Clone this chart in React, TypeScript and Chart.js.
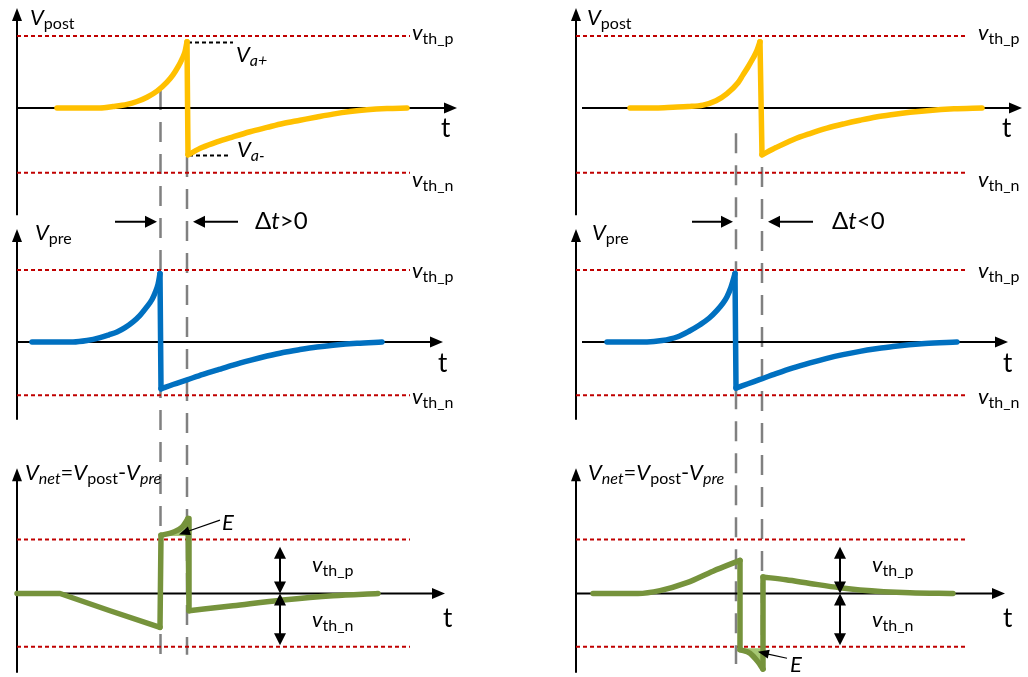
import { useEffect, useRef } from "react";
import { Chart, registerables } from "chart.js";

Chart.register(...registerables);

const FONT = "Lato, 'Open Sans', sans-serif";

// ---------------- DATA ----------------
// Thresholds per row: [V_post, V_pre, V_net]
const vthPos = [1.0, 1.0, 0.75];
const vthNeg = [-0.9, -0.74, -0.74];

// Left column (Δt > 0)
const postL_riseT = [4.0, 6.5, 8.3, 9.6, 11.0, 12.0, 13.0, 14.0, 15.0, 15.6, 16.1, 16.5, 16.8, 17.0];
const postL_riseV = [0, 0, 0, 0.02, 0.05, 0.09, 0.15, 0.235, 0.36, 0.46, 0.57, 0.68, 0.78, 0.92];
const postL_fallT = [17.1, 18.5, 20.0, 21.6, 23.3, 25.0, 26.6, 28.3, 30.0, 31.6, 33.3, 35.0, 37.0, 39.0];
const postL_fallV = [-0.65, -0.55, -0.47, -0.4, -0.33, -0.27, -0.215, -0.17, -0.125, -0.085, -0.05, -0.024, -0.007, 0];

const preL_riseT = [1.5, 5.6, 7.0, 8.3, 9.2, 10.0, 10.8, 11.6, 12.3, 13.0, 13.5, 13.8, 14.1, 14.3];
const preL_riseV = [0, 0, 0.02, 0.06, 0.1, 0.14, 0.2, 0.28, 0.37, 0.49, 0.59, 0.68, 0.8, 0.95];
const preL_fallT = [14.4, 15.6, 17.0, 18.6, 20.2, 21.6, 23.3, 25.0, 26.6, 28.3, 30.0, 31.6, 34.0, 36.5];
const preL_fallV = [-0.65, -0.59, -0.525, -0.45, -0.38, -0.32, -0.255, -0.195, -0.145, -0.105, -0.07, -0.045, -0.017, 0];

const netL_aT = [0, 4.3, 9.3, 14.3];
const netL_aV = [0, 0, -0.24, -0.47];
const netL_bT = [14.4, 15.6, 16.5, 17.1];
const netL_bV = [0.81, 0.85, 0.92, 1.04];
const netL_cT = [17.2, 21.6, 26.6, 31.6, 36.1];
const netL_cV = [-0.24, -0.17, -0.09, -0.03, 0];

// Right column (Δt < 0)
const postR_riseT = [5.4, 8.0, 9.7, 11.2, 12.7, 14.0, 15.1, 16.2, 16.7, 17.2, 17.7, 18.1, 18.4];
const postR_riseV = [0, 0, 0.01, 0.02, 0.04, 0.1, 0.2, 0.35, 0.46, 0.57, 0.69, 0.8, 0.92];
const postR_fallT = [18.6, 20.0, 21.7, 23.4, 25.1, 26.8, 28.4, 30.0, 31.7, 33.4, 35.1, 37.8, 40.6];
const postR_fallV = [-0.65, -0.55, -0.44, -0.355, -0.28, -0.22, -0.17, -0.125, -0.09, -0.06, -0.037, -0.012, 0];

const preR_riseT = [3.1, 7.1, 8.6, 10.1, 11.3, 12.4, 13.3, 14.1, 14.7, 15.1, 15.5, 15.9];
const preR_riseV = [0, 0, 0.02, 0.07, 0.15, 0.24, 0.33, 0.44, 0.54, 0.63, 0.76, 0.95];
const preR_fallT = [16.0, 17.2, 18.4, 20.0, 21.7, 23.4, 25.0, 26.7, 28.4, 30.0, 31.7, 34.9, 38.1];
const preR_fallV = [-0.64, -0.58, -0.52, -0.44, -0.36, -0.29, -0.23, -0.175, -0.13, -0.095, -0.063, -0.022, 0];

const netR_aT = [1.7, 6.2, 8.4, 11.1, 13.7, 16.4];
const netR_aV = [0, 0, 0.04, 0.15, 0.31, 0.46];
const netR_bT = [16.4, 17.4, 18.2, 18.7];
const netR_bV = [-0.78, -0.83, -0.95, -1.05];
const netR_cT = [18.7, 21.0, 23.4, 26.4, 28.4, 33.4, 37.7];
const netR_cV = [0.23, 0.19, 0.14, 0.08, 0.05, 0.01, 0];

// Area "E" fill base level [left, right]
const eFillLevel = [0.8, -0.76];

// Spike times (vertical grey dashed markers) and their vertical extents
const markL = [14.35, 17.0];
const markR = [16.0, 18.6];
const markTopL = [0.25, -0.68]; // on V_post scale
const markBotL = [-0.99, -0.85]; // on V_net scale
const markTopR = [-0.35, -0.82];
const markBotR = [-0.98, -0.9];

// V_a+ / V_a- levels (left post)
const vaPlus = 0.91;
const vaMinus = -0.66;

// ---------------- LAYOUT ----------------
const COLS = ["xL", "xR"];
const ROWS = ["yPost", "yPre", "yNet"];
const axisTop = [1.39, 1.57, 1.74];
const axisBottom = [-1.49, -1.08, -1.1];
const xAxisStart = [
  [0, 0, 0],
  [0.6, 0.6, 0],
];
const xAxisEnd = [
  [44.0, 42.6, 42.8],
  [44.6, 43.2, 42.9],
];
const thEnd = [39.3, 39.2];

const ORANGE = "#ffc000";
const BLUE = "#0070c0";
const GREEN = "#76933c";
const LIGHTGREEN = "#a6c774";
const RED = "#c00000";
const GRAY = "#808080";

const MAIN = 22;
const SUB = 16;

type Part = { s: string; it?: boolean; sub?: boolean };
type Label = { c: number; r: number; t: number; v: number; parts: Part[]; size?: number; sub?: number };

const vth = (name: string): Part[] => [
  { s: "v", it: true },
  { s: name, sub: true },
];
const netTitle: Part[] = [
  { s: "V", it: true }, { s: "net", it: true, sub: true }, { s: "=" },
  { s: "V", it: true }, { s: "post", sub: true }, { s: "-" },
  { s: "V", it: true }, { s: "pre", it: true, sub: true },
];

const LABELS: Label[] = [
  // left column
  { c: 0, r: 0, t: 1.3, v: 1.15, parts: [{ s: "V", it: true }, { s: "post", sub: true }] },
  { c: 0, r: 0, t: 39.5, v: 0.94, parts: vth("th_p") },
  { c: 0, r: 0, t: 39.5, v: -1.1, parts: vth("th_n") },
  { c: 0, r: 0, t: 42.4, v: -0.4, parts: [{ s: "t" }], size: 26 },
  { c: 0, r: 0, t: 21.9, v: 0.64, parts: [{ s: "V", it: true }, { s: "a+", it: true, sub: true }] },
  { c: 0, r: 0, t: 22.0, v: -0.68, parts: [{ s: "V", it: true }, { s: "a-", it: true, sub: true }] },
  { c: 0, r: 1, t: 1.8, v: 1.42, parts: [{ s: "V", it: true }, { s: "pre", sub: true }] },
  { c: 0, r: 1, t: 39.5, v: 0.89, parts: vth("th_p") },
  { c: 0, r: 1, t: 39.5, v: -0.86, parts: vth("th_n") },
  { c: 0, r: 1, t: 42.1, v: -0.42, parts: [{ s: "t" }], size: 26 },
  { c: 0, r: 1, t: 23.8, v: 1.57, parts: [{ s: "Δ" }, { s: "t", it: true }, { s: ">0" }], size: 24 },
  { c: 0, r: 2, t: 0.8, v: 1.57, parts: netTitle },
  { c: 0, r: 2, t: 29.5, v: 0.3, parts: vth("th_p") },
  { c: 0, r: 2, t: 29.5, v: -0.465, parts: vth("th_n") },
  { c: 0, r: 2, t: 42.6, v: -0.465, parts: [{ s: "t" }], size: 26 },
  { c: 0, r: 2, t: 20.5, v: 0.88, parts: [{ s: "E", it: true }] },
  // right column
  { c: 1, r: 0, t: 1.1, v: 1.15, parts: [{ s: "V", it: true }, { s: "post", sub: true }] },
  { c: 1, r: 0, t: 40.2, v: 0.94, parts: vth("th_p") },
  { c: 1, r: 0, t: 40.2, v: -1.1, parts: vth("th_n") },
  { c: 1, r: 0, t: 42.6, v: -0.4, parts: [{ s: "t" }], size: 26 },
  { c: 1, r: 1, t: 1.6, v: 1.42, parts: [{ s: "V", it: true }, { s: "pre", sub: true }] },
  { c: 1, r: 1, t: 40.2, v: 0.89, parts: vth("th_p") },
  { c: 1, r: 1, t: 40.2, v: -0.86, parts: vth("th_n") },
  { c: 1, r: 1, t: 42.7, v: -0.42, parts: [{ s: "t" }], size: 26 },
  { c: 1, r: 1, t: 25.6, v: 1.57, parts: [{ s: "Δ" }, { s: "t", it: true }, { s: "<0" }], size: 24 },
  { c: 1, r: 2, t: 1.2, v: 1.57, parts: netTitle },
  { c: 1, r: 2, t: 29.6, v: 0.3, parts: vth("th_p") },
  { c: 1, r: 2, t: 29.6, v: -0.465, parts: vth("th_n") },
  { c: 1, r: 2, t: 42.7, v: -0.465, parts: [{ s: "t" }], size: 26 },
  { c: 1, r: 2, t: 21.4, v: -1.09, parts: [{ s: "E", it: true }] },
];

// Δt arrows (pre row, level), [from, tip]
const dtLevel = 1.67;
const dtArrows = [
  [[9.8, 14.0], [22.1, 17.6]],
  [[11.6, 15.7], [23.7, 19.2]],
];
// double arrows in net row
const dblT = [26.3, 26.4];
const dblTop = 0.65;
const dblBot = -0.72;
// E pointer arrows [tailT, tailV, tipT, tipV]
const ePointers = [
  [20.3, 1.02, 16.2, 0.82],
  [21.1, -0.9, 18.2, -0.81],
];

type Seg = { p: { x: number; y: number }[]; straight?: boolean };

function pts(t: number[], v: number[]) {
  return t.map((x, i) => ({ x, y: v[i] }));
}

function curveSets(segs: Seg[], xAxisID: string, yAxisID: string, color: string) {
  const out: any[] = [];
  const base = {
    xAxisID, yAxisID, borderColor: color, borderWidth: 5.5, pointRadius: 0, fill: false,
    borderCapStyle: "round", borderJoinStyle: "round", clip: false,
  };
  segs.forEach((s, i) => {
    if (s.straight) out.push({ ...base, data: s.p, tension: 0 });
    else out.push({ ...base, data: s.p, cubicInterpolationMode: "monotone" });
    if (i < segs.length - 1) {
      out.push({ ...base, data: [s.p[s.p.length - 1], segs[i + 1].p[0]], tension: 0 });
    }
  });
  return out;
}

function hLine(xAxisID: string, yAxisID: string, t0: number, t1: number, v: number, color: string, dash: number[]) {
  return {
    xAxisID, yAxisID, data: [{ x: t0, y: v }, { x: t1, y: v }], borderColor: color, borderWidth: 2,
    borderDash: dash, pointRadius: 0, fill: false, tension: 0, clip: false, borderCapStyle: "butt",
  };
}

function arrowHead(ctx: CanvasRenderingContext2D, x: number, y: number, dx: number, dy: number, len = 12, half = 5.5) {
  const px = -dy, py = dx;
  ctx.beginPath();
  ctx.moveTo(x, y);
  ctx.lineTo(x - dx * len + px * half, y - dy * len + py * half);
  ctx.lineTo(x - dx * len - px * half, y - dy * len - py * half);
  ctx.closePath();
  ctx.fill();
}

function drawRich(ctx: CanvasRenderingContext2D, x: number, y: number, parts: Part[], size = MAIN, sub = SUB) {
  let cx = x;
  for (const p of parts) {
    const sz = p.sub ? sub : size;
    ctx.font = `${p.it ? "italic " : ""}${sz}px ${FONT}`;
    ctx.fillText(p.s, cx, p.sub ? y + 4 : y);
    cx += ctx.measureText(p.s).width;
  }
}

const figurePlugin = {
  id: "stdpFigure",
  beforeDatasetsDraw(chart: any) {
    const ctx: CanvasRenderingContext2D = chart.ctx;
    const X = (c: number, t: number) => chart.scales[COLS[c]].getPixelForValue(t);
    const Y = (r: number, v: number) => chart.scales[ROWS[r]].getPixelForValue(v);
    ctx.save();
    // grey dashed spike markers
    ctx.strokeStyle = GRAY;
    ctx.lineWidth = 2.5;
    ctx.setLineDash([20, 12]);
    const marks = [
      [markL, markTopL, markBotL],
      [markR, markTopR, markBotR],
    ];
    marks.forEach(([ts, tops, bots], c) => {
      ts.forEach((t, i) => {
        const x = X(c, t);
        ctx.beginPath();
        ctx.moveTo(x, Y(0, tops[i]));
        ctx.lineTo(x, Y(2, bots[i]));
        ctx.stroke();
      });
    });
    ctx.setLineDash([]);
    // axes
    ctx.strokeStyle = "#000";
    ctx.fillStyle = "#000";
    ctx.lineWidth = 2;
    for (let c = 0; c < 2; c++) {
      for (let r = 0; r < 3; r++) {
        const x0 = X(c, 0);
        const yt = Y(r, axisTop[r]);
        ctx.beginPath();
        ctx.moveTo(x0, Y(r, axisBottom[r]));
        ctx.lineTo(x0, yt + 8);
        ctx.stroke();
        arrowHead(ctx, x0, yt, 0, -1, 13, 5);
        const y0 = Y(r, 0);
        const xe = X(c, xAxisEnd[c][r]);
        ctx.beginPath();
        ctx.moveTo(X(c, xAxisStart[c][r]), y0);
        ctx.lineTo(xe - 8, y0);
        ctx.stroke();
        arrowHead(ctx, xe, y0, 1, 0, 13, 5.5);
      }
    }
    ctx.restore();
  },
  afterDatasetsDraw(chart: any) {
    const ctx: CanvasRenderingContext2D = chart.ctx;
    const X = (c: number, t: number) => chart.scales[COLS[c]].getPixelForValue(t);
    const Y = (r: number, v: number) => chart.scales[ROWS[r]].getPixelForValue(v);
    ctx.save();
    ctx.fillStyle = "#000";
    ctx.strokeStyle = "#000";
    ctx.textBaseline = "alphabetic";
    ctx.textAlign = "left";
    for (const l of LABELS) {
      drawRich(ctx, X(l.c, l.t), Y(l.r, l.v), l.parts, l.size || MAIN, l.sub || SUB);
    }
    // Δt arrows
    ctx.lineWidth = 2;
    dtArrows.forEach((pair, c) => {
      const y = Y(1, dtLevel);
      pair.forEach(([from, tip]) => {
        const x0 = X(c, from), x1 = X(c, tip);
        const d = Math.sign(x1 - x0);
        ctx.beginPath();
        ctx.moveTo(x0, y);
        ctx.lineTo(x1 - d * 8, y);
        ctx.stroke();
        arrowHead(ctx, x1, y, d, 0, 12, 6);
      });
    });
    // double arrows on net row
    dblT.forEach((t, c) => {
      const x = X(c, t);
      const yTop = Y(2, dblTop), y0 = Y(2, 0), yBot = Y(2, dblBot);
      ctx.beginPath();
      ctx.moveTo(x, yTop + 8);
      ctx.lineTo(x, y0 - 8);
      ctx.moveTo(x, y0 + 8);
      ctx.lineTo(x, yBot - 8);
      ctx.stroke();
      arrowHead(ctx, x, yTop, 0, -1, 12, 6);
      arrowHead(ctx, x, y0, 0, 1, 12, 6);
      arrowHead(ctx, x, y0, 0, -1, 12, 6);
      arrowHead(ctx, x, yBot, 0, 1, 12, 6);
    });
    // E pointers
    ctx.lineWidth = 1.2;
    ePointers.forEach(([tt, tv, pt, pv], c) => {
      const x0 = X(c, tt), y0 = Y(2, tv), x1 = X(c, pt), y1 = Y(2, pv);
      const len = Math.hypot(x1 - x0, y1 - y0);
      const dx = (x1 - x0) / len, dy = (y1 - y0) / len;
      ctx.beginPath();
      ctx.moveTo(x0, y0);
      ctx.lineTo(x1 - dx * 8, y1 - dy * 8);
      ctx.stroke();
      arrowHead(ctx, x1, y1, dx, dy, 11, 4.5);
    });
    ctx.restore();
  },
};

export default function App() {
  const ref = useRef<HTMLCanvasElement>(null);
  useEffect(() => {
    if (!ref.current) return;
    const datasets: any[] = [
      ...curveSets(
        [{ p: pts(netL_aT, netL_aV), straight: true }, { p: pts(netL_bT, netL_bV) }, { p: pts(netL_cT, netL_cV) }],
        "xL", "yNet", GREEN
      ),
      ...curveSets(
        [{ p: pts(netR_aT, netR_aV) }, { p: pts(netR_bT, netR_bV) }, { p: pts(netR_cT, netR_cV) }],
        "xR", "yNet", GREEN
      ),
      ...curveSets([{ p: pts(postL_riseT, postL_riseV) }, { p: pts(postL_fallT, postL_fallV) }], "xL", "yPost", ORANGE),
      ...curveSets([{ p: pts(postR_riseT, postR_riseV) }, { p: pts(postR_fallT, postR_fallV) }], "xR", "yPost", ORANGE),
      ...curveSets([{ p: pts(preL_riseT, preL_riseV) }, { p: pts(preL_fallT, preL_fallV) }], "xL", "yPre", BLUE),
      ...curveSets([{ p: pts(preR_riseT, preR_riseV) }, { p: pts(preR_fallT, preR_fallV) }], "xR", "yPre", BLUE),
      // area E
      {
        xAxisID: "xL", yAxisID: "yNet", data: pts(netL_bT, netL_bV), borderWidth: 0, pointRadius: 0,
        cubicInterpolationMode: "monotone", fill: { value: eFillLevel[0] }, backgroundColor: LIGHTGREEN, clip: false,
      },
      {
        xAxisID: "xR", yAxisID: "yNet", data: pts(netR_bT, netR_bV), borderWidth: 0, pointRadius: 0,
        cubicInterpolationMode: "monotone", fill: { value: eFillLevel[1] }, backgroundColor: LIGHTGREEN, clip: false,
      },
      // V_a+ / V_a- markers
      hLine("xL", "yPost", 17.1, 21.6, vaPlus, "#000", [4, 3]),
      hLine("xL", "yPost", 17.2, 21.3, vaMinus, "#000", [4, 3]),
    ];
    // thresholds
    COLS.forEach((xId, c) => {
      ROWS.forEach((yId, r) => {
        datasets.push(hLine(xId, yId, 0, thEnd[c], vthPos[r], RED, [4, 3]));
        datasets.push(hLine(xId, yId, 0, thEnd[c], vthNeg[r], RED, [4, 3]));
      });
    });

    const chart = new Chart(ref.current, {
      type: "line",
      data: { datasets },
      options: {
        responsive: false,
        maintainAspectRatio: false,
        animation: false,
        devicePixelRatio: 1,
        events: [],
        layout: { padding: 0 },
        plugins: { legend: { display: false }, tooltip: { enabled: false }, title: { display: false } },
        scales: {
          xL: { type: "linear", axis: "x", position: "bottom", stack: "cols", stackWeight: 1, weight: 1, min: -1.7, max: 49.7, display: false },
          xR: { type: "linear", axis: "x", position: "bottom", stack: "cols", stackWeight: 1, weight: 2, min: -6.2, max: 45.2, display: false },
          yPost: { type: "linear", axis: "y", position: "left", stack: "rows", stackWeight: 200, weight: 3, min: -1.278, max: 1.5, display: false },
          yPre: { type: "linear", axis: "y", position: "left", stack: "rows", stackWeight: 230, weight: 2, min: -1.222, max: 1.972, display: false },
          yNet: { type: "linear", axis: "y", position: "left", stack: "rows", stackWeight: 247, weight: 1, min: -1.16, max: 2.271, display: false },
        },
      } as any,
      plugins: [figurePlugin as any],
    });
    return () => chart.destroy();
  }, []);
  return (
    <div style={{ position: "fixed", left: 0, top: 0, width: 1028, height: 677, background: "#fff" }}>
      <canvas ref={ref} width={1028} height={677} style={{ display: "block" }} />
    </div>
  );
}
